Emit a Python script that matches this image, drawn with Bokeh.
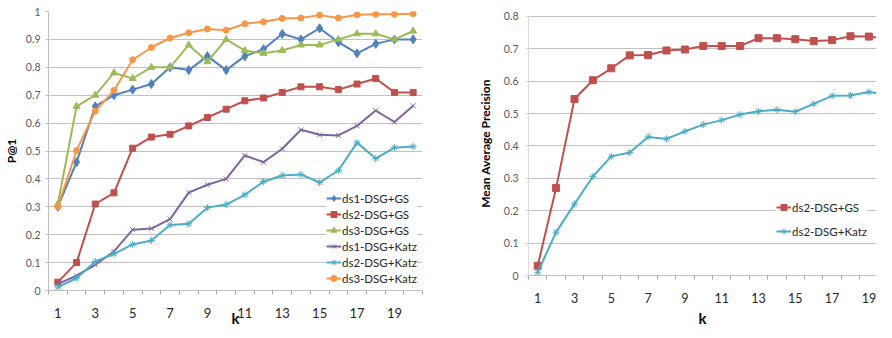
from bokeh.plotting import figure
from bokeh.models import FixedTicker, Range1d
from bokeh.layouts import row
from bokeh.embed import file_html
from bokeh.resources import INLINE

# ---------------- data ----------------
k = list(range(1, 21))
x_tick_labels = [1, 3, 5, 7, 9, 11, 13, 15, 17, 19]

ds1_gs = [0.30, 0.46, 0.66, 0.70, 0.72, 0.74, 0.80, 0.79, 0.84, 0.79,
          0.84, 0.865, 0.92, 0.90, 0.94, 0.89, 0.85, 0.884, 0.90, 0.90]
ds2_gs = [0.03, 0.10, 0.31, 0.35, 0.51, 0.55, 0.56, 0.59, 0.62, 0.65,
          0.68, 0.69, 0.71, 0.73, 0.73, 0.72, 0.74, 0.76, 0.71, 0.71]
ds3_gs = [0.31, 0.66, 0.70, 0.78, 0.76, 0.80, 0.80, 0.88, 0.82, 0.90,
          0.86, 0.85, 0.86, 0.88, 0.88, 0.90, 0.92, 0.92, 0.90, 0.93]
ds1_katz = [0.024, 0.053, 0.092, 0.14, 0.218, 0.222, 0.256, 0.351, 0.379, 0.40,
            0.484, 0.46, 0.508, 0.576, 0.558, 0.556, 0.59, 0.645, 0.604, 0.662]
ds2_katz = [0.012, 0.044, 0.104, 0.131, 0.165, 0.179, 0.235, 0.239, 0.297, 0.308,
            0.343, 0.39, 0.412, 0.416, 0.387, 0.43, 0.53, 0.473, 0.512, 0.516]
ds3_katz = [0.30, 0.502, 0.643, 0.717, 0.827, 0.871, 0.905, 0.924, 0.937, 0.933,
            0.956, 0.963, 0.975, 0.977, 0.987, 0.977, 0.988, 0.99, 0.99, 0.992]

map_ds2_gs = [0.03, 0.27, 0.545, 0.603, 0.64, 0.68, 0.681, 0.695, 0.698, 0.709,
              0.709, 0.709, 0.733, 0.733, 0.73, 0.724, 0.727, 0.739, 0.738, 0.73]
map_ds2_katz = [0.01, 0.134, 0.221, 0.306, 0.368, 0.38, 0.428, 0.422, 0.445, 0.466,
                0.48, 0.497, 0.507, 0.512, 0.506, 0.53, 0.555, 0.556, 0.567, 0.559]

left_series = [
    ("ds1-DSG+GS", ds1_gs, "#4F81BD", "diamond", 9),
    ("ds2-DSG+GS", ds2_gs, "#C0504D", "square", 6),
    ("ds3-DSG+GS", ds3_gs, "#9BBB59", "triangle", 7),
    ("ds1-DSG+Katz", ds1_katz, "#8064A2", "x", 7),
    ("ds2-DSG+Katz", ds2_katz, "#4BACC6", "asterisk", 7),
    ("ds3-DSG+Katz", ds3_katz, "#F79646", "circle", 6),
]
right_series = [
    ("ds2-DSG+GS", map_ds2_gs, "#C0504D", "square", 7),
    ("ds2-DSG+Katz", map_ds2_katz, "#4BACC6", "asterisk", 7),
]

left_yticks = [round(i * 0.1, 1) for i in range(11)]
right_yticks = [round(i * 0.1, 1) for i in range(9)]

FONT = "Lato"
GRID = "#C0C0C0"


def style(p, yticks, yaxis_color):
    p.outline_line_color = None
    p.xgrid.grid_line_color = None
    p.ygrid.grid_line_color = GRID
    p.ygrid.ticker = FixedTicker(ticks=yticks)
    ya = p.yaxis[0]
    ya.ticker = FixedTicker(ticks=yticks)
    ya.bounds = (yticks[0], yticks[-1])
    ya.major_label_overrides = {t: ("%g" % t) for t in yticks}
    ya.axis_line_color = yaxis_color
    ya.major_tick_line_color = yaxis_color
    ya.major_tick_out = 3
    ya.major_tick_in = 0
    ya.minor_tick_line_color = None
    ya.major_label_text_font = FONT
    ya.major_label_text_font_size = "10.5px"
    ya.major_label_text_color = "#595959"
    ya.axis_label_text_font = FONT
    ya.axis_label_text_font_style = "bold"
    ya.axis_label_text_color = "#000000"
    xa = p.xaxis[0]
    xa.ticker = FixedTicker(ticks=x_tick_labels,
                            minor_ticks=[i + 0.5 for i in range(0, 21)])
    xa.major_tick_line_color = None
    xa.major_tick_out = 0
    xa.major_tick_in = 0
    xa.minor_tick_line_color = "#A6A6A6"
    xa.minor_tick_out = 4
    xa.minor_tick_in = 0
    xa.axis_line_color = "#BFBFBF"
    xa.major_label_text_font = FONT
    xa.major_label_text_font_size = "13px"
    xa.major_label_text_color = "#262626"
    xa.major_label_standoff = 13
    xa.axis_label = "k"
    xa.axis_label_text_font = FONT
    xa.axis_label_text_font_style = "bold"
    xa.axis_label_text_font_size = "15px"
    xa.axis_label_text_color = "#000000"


def draw(p, series):
    for name, ys, color, marker, size in series:
        p.line(k, ys, line_color=color, line_width=2, legend_label=name)
        p.scatter(k, ys, marker=marker, size=size, line_color=color,
                  fill_color=color, line_width=1, legend_label=name)


def style_legend(lg, loc, padding, spacing):
    lg.location = loc
    lg.margin = 0
    lg.padding = padding
    lg.spacing = spacing
    lg.glyph_width = 15
    lg.glyph_height = 16
    lg.label_height = 16
    lg.label_standoff = 1
    lg.label_text_font = FONT
    lg.label_text_font_size = "11.5px"
    lg.label_text_color = "#262626"
    lg.border_line_color = None
    lg.background_fill_color = "white"
    lg.background_fill_alpha = 1.0


# ---------------- left chart ----------------
p1 = figure(frame_width=374, frame_height=279, min_border_left=48,
            min_border_right=16, min_border_top=11, min_border_bottom=38,
            x_range=Range1d(0.5, 20.5), y_range=Range1d(0, 1),
            output_backend="svg", toolbar_location=None)
draw(p1, left_series)
style(p1, left_yticks, "#BFBFBF")
p1.yaxis[0].axis_label = "P@1"
p1.yaxis[0].axis_label_text_font_size = "12px"
p1.yaxis[0].axis_label_standoff = 4
p1.yaxis[0].major_label_standoff = 5
p1.xaxis[0].axis_label_standoff = -12
style_legend(p1.legend[0], (278, 4), 2, 0)

# ---------------- right chart ----------------
# frame shares the top border with the left chart; the range runs slightly
# above 0.8 so that the 0.8 line sits lower than the left chart's 1.0 line
p2 = figure(frame_width=348, frame_height=264, min_border_left=90,
            min_border_right=0, min_border_top=11, min_border_bottom=53,
            x_range=Range1d(0.5, 0.5 + 348 / 18.4),
            y_range=Range1d(0, 0.8 + 5 / 324),
            output_backend="svg", toolbar_location=None)
draw(p2, right_series)
style(p2, right_yticks, "#D9D9D9")
p2.yaxis[0].axis_label = "Mean Average Precision"
p2.yaxis[0].axis_label_text_font_size = "12px"
p2.yaxis[0].axis_label_standoff = 8
p2.yaxis[0].major_label_standoff = 7
p2.xaxis[0].major_label_text_font_size = "12.5px"
p2.xaxis[0].axis_label_standoff = 3
style_legend(p2.legend[0], (248, 36), 10, 8)

layout = row(p1, p2)
open("out.html", "w").write(file_html(layout, INLINE))
